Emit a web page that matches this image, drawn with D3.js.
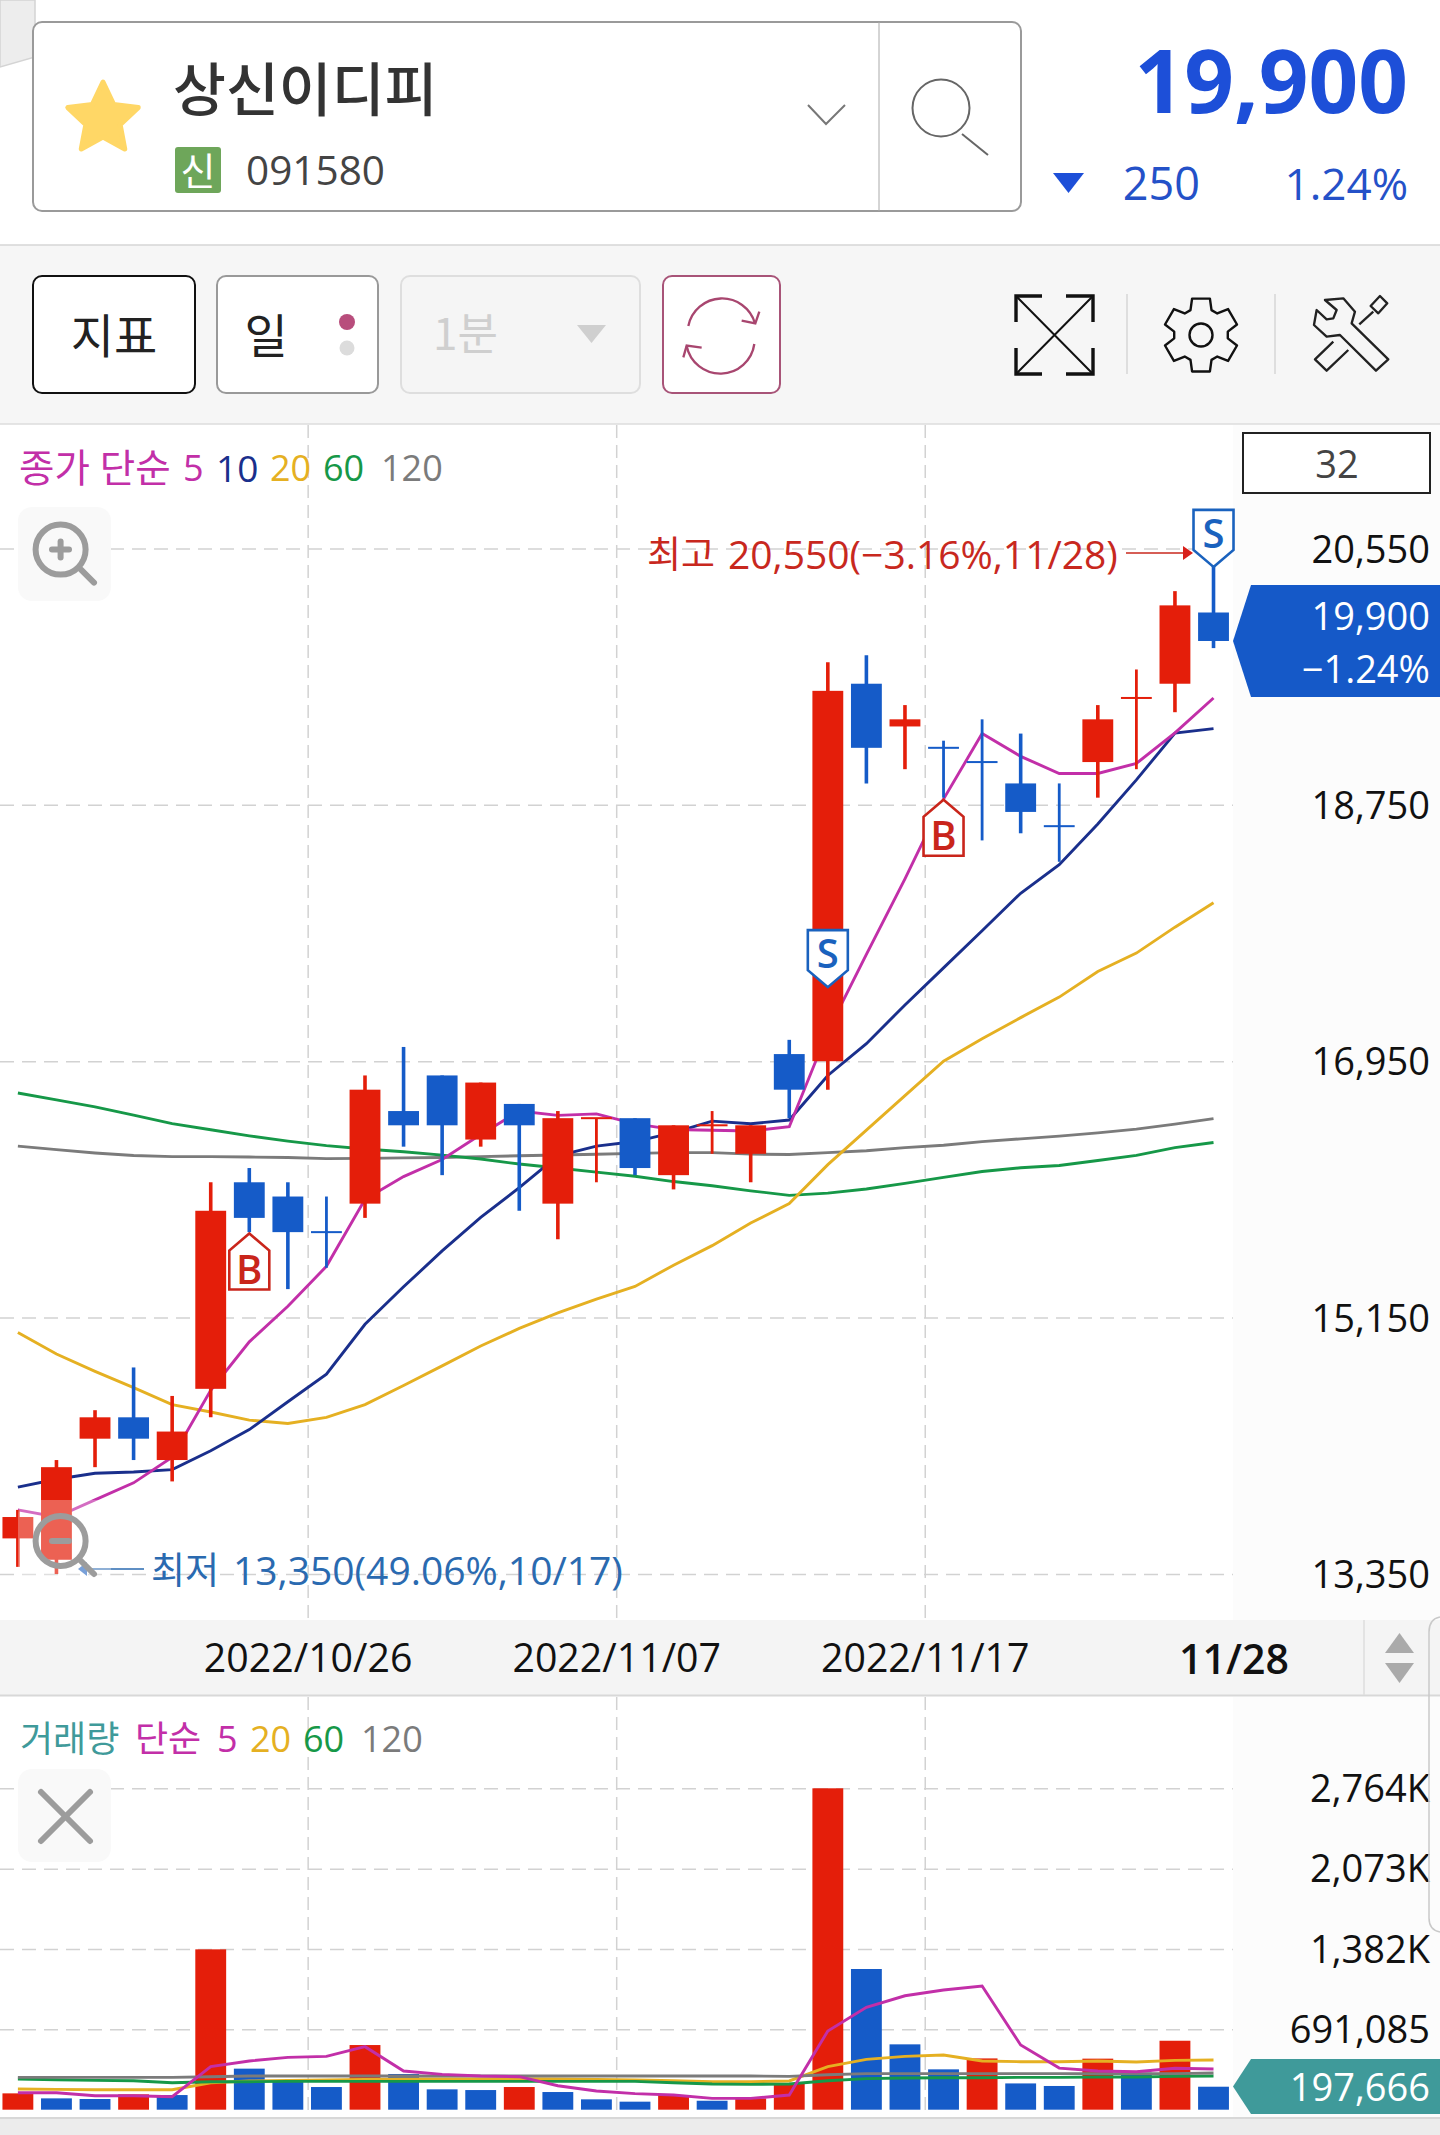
<!DOCTYPE html>
<html lang="ko">
<head>
<meta charset="utf-8">
<title>상신이디피 일봉 차트</title>
<script src="https://cdn.jsdelivr.net/npm/d3@7/dist/d3.min.js"></script>
<style>
  html, body { margin: 0; padding: 0; background: #fff; }
  svg { display: block; }
  text { font-family: "Open Sans", "Noto Sans CJK KR", sans-serif; }
  .kr { font-family: "Noto Sans CJK KR", sans-serif; }
</style>
</head>
<body>
<svg id="chart" width="1440" height="2135" viewBox="0 0 1440 2135"></svg>
<script>
// Daily sessions, 2022/10/14 to 2022/11/28
const dates = ["10/14","10/17","10/18","10/19","10/20","10/21","10/24","10/25","10/26","10/27","10/28","10/31",
  "11/01","11/02","11/03","11/04","11/07","11/08","11/09","11/10","11/11","11/14","11/15","11/16",
  "11/17","11/18","11/21","11/22","11/23","11/24","11/25","11/28"];

const opens  = [13600,13450,14300,14450,14150,14650,16100,16000,15750,15950,16600,16850,16400,16650,15950,16550,
                16550,16150,16500,16300,17000,16950,19600,19300,19150,19050,18900,18600,19050,19500,19600,20100];
const closes = [13750,14100,14450,14300,14350,15900,15850,15750,15750,16750,16500,16500,16800,16500,16550,16550,
                16200,16500,16500,16500,16750,19550,19150,19350,19150,19050,18700,18600,19350,19500,20150,19900];
const highs  = [13800,14150,14500,14800,14600,16100,16200,16100,16000,16850,17050,16850,16800,16650,16600,16550,
                16550,16500,16600,16500,17100,19750,19800,19450,19200,19350,19250,18900,19450,19700,20250,20550];
const lows   = [13400,13350,14100,14150,14000,14450,15750,15350,15500,15850,16350,16150,16350,15900,15700,16100,
                16150,16050,16300,16100,16550,16750,18900,19000,18800,18500,18550,18350,18800,19000,19400,19850];
// 1 = up session (red), 0 = down session (blue); needed for sessions that close where they opened
const rising = [1,1,1,0,1,1,0,0,0,1,0,0,1,0,1,1,0,1,1,1,0,1,0,1,0,0,0,0,1,1,1,0];

const ma5   = [13800,13750,13870,13990,14170,14640,14980,15230,15510,15980,16140,16260,16435,16600,16570,16580,
               16510,16470,16465,16460,16490,17160,17700,18230,18790,19250,19090,18970,18970,19040,19255,19500];
const ma10  = [13960,14015,14057,14066,14083,14215,14364,14559,14753,15103,15366,15618,15853,16062,16286,16354,
               16386,16449,16529,16511,16537,16850,17073,17345,17605,17866,18129,18329,18615,18925,19254,19285];
const ma20  = [15045,14894,14773,14659,14539,14487,14430,14407,14450,14539,14673,14811,14951,15074,15183,15280,
               15369,15518,15655,15814,15950,16224,16466,16708,16950,17107,17256,17400,17580,17709,17891,18063];
const ma60  = [16727,16678,16629,16572,16512,16469,16426,16389,16357,16334,16314,16291,16263,16228,16200,16171,
               16142,16105,16076,16040,16008,16024,16053,16092,16134,16176,16202,16218,16253,16289,16343,16379];
const ma120 = [16354,16329,16306,16288,16280,16280,16277,16274,16266,16268,16271,16274,16280,16286,16291,16297,
               16303,16308,16308,16298,16295,16308,16321,16343,16360,16385,16405,16424,16447,16473,16508,16547];

const volumes = [140500,97500,92000,132000,126000,1379000,353000,241000,195000,556000,307000,175000,169000,195000,152000,89000,
                 69000,126000,77000,97000,221000,2764000,1210000,562000,347000,441000,226000,204000,439000,318000,593000,197666];
const volMa5   = [146,146,120,120,112,370,419,450,459,542,333,304,290,284,206,161,138,126,97,97,126,677,880,980,1029,1064,556,358,333,327,356,350];
const volMa20  = [178,175,172,172,172,232,247,252,255,261,264,264,264,267,264,261,255,249,241,241,247,370,433,459,470,419,413,413,419,410,424,427];
const volMa60  = [264,258,252,249,232,241,241,244,244,244,244,244,244,244,244,244,244,232,221,218,221,249,267,272,275,275,278,278,281,281,287,290];
const volMa120 = [278,278,278,278,278,284,290,290,290,290,290,290,290,290,290,290,290,290,290,290,287,301,310,310,310,310,310,310,310,310,310,315];

const priceTicks = [20550,18750,16950,15150,13350];
const volumeTicks = [691085,1382000,2073000,2764000];
const volumeTickLabels = {691085:"691,085",1382000:"1,382K",2073000:"2,073K",2764000:"2,764K"};
const dateTicks = ["10/26","11/07","11/17"];
const dateLabels = ["2022/10/26","2022/11/07","2022/11/17"];

// Trade signals: session, kind and the price the marker points at
const signals = [
  {date:"10/24", kind:"B", price:15740},
  {date:"11/14", kind:"S", price:17470},
  {date:"11/17", kind:"B", price:18785},
  {date:"11/28", kind:"S", price:20420}
];

const RED = "#e41e0a", BLUE = "#155bc8";
const MAGENTA = "#c22fa8", NAVY = "#1a2f8c", YELLOW = "#e5b022", GREEN = "#169848", GRAY = "#7b7b7b", TEAL = "#3f9a9a";

const svg = d3.select("#chart");

const x = d3.scaleBand().domain(dates).range([-1.4, 1232.8]).paddingInner(0.2).paddingOuter(0.1);
const cx = d => x(d) + x.bandwidth() / 2;
const gridX = d => x(d) - x.step() * 0.1 + 1;
const y = d3.scaleLinear().domain([13350, 20550]).range([1574, 548.4]);
const yv = d3.scaleLinear().domain([0, 2764000]).range([2109.7, 1788.3]);

// ---- Panels and backgrounds ----
svg.append("rect").attr("width",1440).attr("height",2135).attr("fill","#fff");
svg.append("rect").attr("y",245).attr("width",1440).attr("height",179).attr("fill","#f6f6f6");
svg.append("line").attr("x1",0).attr("x2",1440).attr("y1",245).attr("y2",245).attr("stroke","#d6d6d6").attr("stroke-width",1.5);
svg.append("line").attr("x1",0).attr("x2",1440).attr("y1",424).attr("y2",424).attr("stroke","#dcdcdc").attr("stroke-width",1.5);
svg.append("rect").attr("x",1233).attr("y",425).attr("width",207).attr("height",1195).attr("fill","#fcfcfc");
svg.append("rect").attr("x",1233).attr("y",1697).attr("width",207).attr("height",420).attr("fill","#fcfcfc");

// ---- Grid ----
const grid = svg.append("g");
const priceGrid = grid.append("g").call(d3.axisRight(y).tickValues(priceTicks).tickSize(1233).tickFormat(""));
const volGrid = grid.append("g").call(d3.axisRight(yv).tickValues(volumeTicks).tickSize(1233).tickFormat(""));
[priceGrid, volGrid].forEach(g => {
  g.select(".domain").remove();
  g.selectAll("line").attr("stroke","#d2d2d2").attr("stroke-width",1.5).attr("stroke-dasharray","14 8");
});
dateTicks.forEach(d => {
  [[425,1620],[1697,2110]].forEach(([a,b]) => {
    grid.append("line").attr("x1",gridX(d)).attr("x2",gridX(d)).attr("y1",a).attr("y2",b)
      .attr("stroke","#d2d2d2").attr("stroke-width",1.5).attr("stroke-dasharray","13 7");
  });
});

// ---- Moving averages, price ----
const priceLine = d3.line().x((d,i) => cx(dates[i])).y(d => y(d));
[[ma120,GRAY],[ma60,GREEN],[ma20,YELLOW],[ma10,NAVY],[ma5,MAGENTA]].forEach(([s,c]) => {
  svg.append("path").attr("d",priceLine(s)).attr("fill","none").attr("stroke",c).attr("stroke-width",2.9);
});

// ---- Candles ----
const candles = svg.append("g").selectAll("g").data(dates).join("g");
candles.append("line")
  .attr("x1",d=>cx(d)).attr("x2",d=>cx(d))
  .attr("y1",(d,i)=>y(highs[i])).attr("y2",(d,i)=>y(lows[i]))
  .attr("stroke",(d,i)=>rising[i]?RED:BLUE)
  .attr("stroke-width",(d,i)=>opens[i]===closes[i]?2.8:3.6);
candles.append("rect")
  .attr("x",d=>x(d)).attr("width",x.bandwidth())
  .attr("y",(d,i)=>y(Math.max(opens[i],closes[i])) - (opens[i]===closes[i]?1:0))
  .attr("height",(d,i)=>Math.max(2, Math.abs(y(opens[i])-y(closes[i]))))
  .attr("fill",(d,i)=>rising[i]?RED:BLUE);

// ---- Volume bars and averages ----
svg.append("g").selectAll("rect").data(volumes).join("rect")
  .attr("x",(d,i)=>x(dates[i])).attr("width",x.bandwidth())
  .attr("y",d=>yv(d)).attr("height",d=>yv(0)-yv(d))
  .attr("fill",(d,i)=>(i===0||d>volumes[i-1])?RED:BLUE);
const volLine = d3.line().x((d,i)=>cx(dates[i])).y(d=>yv(d*1000));
[[volMa20,YELLOW],[volMa60,GREEN],[volMa120,GRAY],[volMa5,MAGENTA]].forEach(([s,c]) => {
  svg.append("path").attr("d",volLine(s)).attr("fill","none").attr("stroke",c).attr("stroke-width",2.9);
});

// ---- Buy / sell markers ----
signals.forEach(s => {
  const px = cx(s.date), py = y(s.price), c = s.kind === "B" ? "#c9251b" : "#1a62be";
  const g = svg.append("g").attr("transform",`translate(${px},${py})`);
  const shape = s.kind === "B"
    ? "M0,0 L20,17 L20,56 L-20,56 L-20,17 Z"
    : "M0,0 L20,-17 L20,-57 L-20,-57 L-20,-17 Z";
  g.append("path").attr("d",shape).attr("fill","#fff").attr("stroke",c).attr("stroke-width",2.6);
  g.append("text").text(s.kind).attr("text-anchor","middle")
    .attr("y",s.kind==="B"?50:-19).attr("font-size",40).attr("font-weight",600).attr("fill",c);
});

// ---- Right axes ----
const axisFont = 38, axisRightEdge = 1430;
const priceAxis = svg.append("g").attr("transform",`translate(${axisRightEdge},1.5)`)
  .call(d3.axisLeft(y).tickValues(priceTicks).tickSize(0).tickPadding(0).tickFormat(d3.format(",")));
const volAxis = svg.append("g").attr("transform",`translate(${axisRightEdge},1)`)
  .call(d3.axisLeft(yv).tickValues(volumeTicks).tickSize(0).tickPadding(0).tickFormat(d=>volumeTickLabels[d]));
[priceAxis, volAxis].forEach(g => {
  g.select(".domain").remove();
  g.selectAll("text").attr("font-size",axisFont).attr("fill","#111").attr("font-family",'"Open Sans"');
});

// ---- Date strip ----
svg.append("rect").attr("y",1620).attr("width",1440).attr("height",76).attr("fill","#f4f4f4");
svg.append("line").attr("x1",0).attr("x2",1440).attr("y1",1695.5).attr("y2",1695.5).attr("stroke","#d8d8d8").attr("stroke-width",2);
const dateAxis = svg.append("g").attr("transform","translate(0,1656.5)");
dateTicks.forEach((d,i) => {
  dateAxis.append("text").text(dateLabels[i]).attr("x",gridX(d)).attr("text-anchor","middle")
    .attr("dominant-baseline","central").attr("font-size",39.3).attr("fill","#111");
});
dateAxis.append("text").text("11/28").attr("x",1234).attr("y",1.5).attr("text-anchor","middle")
  .attr("dominant-baseline","central").attr("font-size",41).attr("font-weight",600).attr("fill","#111");
svg.append("line").attr("x1",1364).attr("x2",1364).attr("y1",1620).attr("y2",1695).attr("stroke","#dedede").attr("stroke-width",1.5);
svg.append("path").attr("d","M1399.5,1633 L1414,1653 L1385,1653 Z").attr("fill","#aaa");
svg.append("path").attr("d","M1385,1663 L1414,1663 L1399.5,1683 Z").attr("fill","#aaa");
svg.append("path").attr("d","M1440,1617 Q1429,1619 1429,1632 L1429,1918 Q1429,1930 1440,1932")
  .attr("fill","none").attr("stroke","#c9c9c9").attr("stroke-width",1.5);

// ---- Bottom strip ----
svg.append("rect").attr("y",2118).attr("width",1440).attr("height",17).attr("fill","#ececec");
svg.append("line").attr("x1",0).attr("x2",1440).attr("y1",2118).attr("y2",2118).attr("stroke","#d8d8d8").attr("stroke-width",2);

// ---- Last value tags ----
function lastTag(top, bottom, color) {
  const mid = (top + bottom) / 2;
  svg.append("path").attr("d",`M1233,${mid} L1251,${top} L1440,${top} L1440,${bottom} L1251,${bottom} Z`).attr("fill",color);
}
lastTag(585, 697, "#1559c8");
[["19,900",614.5],["−1.24%",667.5]].forEach(([t,py]) => {
  svg.append("text").text(t).attr("x",axisRightEdge).attr("y",py).attr("text-anchor","end")
    .attr("dominant-baseline","central").attr("font-size",axisFont).attr("fill","#fff");
});
lastTag(2059, 2114, TEAL);
svg.append("text").text("197,666").attr("x",axisRightEdge).attr("y",2086).attr("text-anchor","end")
  .attr("dominant-baseline","central").attr("font-size",axisFont).attr("fill","#fff");

// Session count box
svg.append("rect").attr("x",1243).attr("y",433).attr("width",187).attr("height",60)
  .attr("fill","#fff").attr("stroke","#222").attr("stroke-width",2);
svg.append("text").text("32").attr("x",1337).attr("y",463).attr("text-anchor","middle")
  .attr("dominant-baseline","central").attr("font-size",axisFont).attr("fill","#444");

// ---- High / low annotations ----
svg.append("text").attr("class","kr").text("최고").attr("x",647).attr("y",552).attr("dominant-baseline","central")
  .attr("font-size",37).attr("fill","#c8281e");
svg.append("text").text("20,550(−3.16%,11/28)").attr("x",728).attr("y",553).attr("dominant-baseline","central")
  .attr("font-size",39).attr("fill","#c8281e");
svg.append("line").attr("x1",1126).attr("x2",1186).attr("y1",553).attr("y2",553).attr("stroke","#c8281e").attr("stroke-width",1.6);
svg.append("path").attr("d","M1193,553 L1183,546 L1183,560 Z").attr("fill","#d8201a");

svg.append("text").attr("class","kr").text("최저").attr("x",151).attr("y",1568).attr("dominant-baseline","central")
  .attr("font-size",37).attr("fill","#2a6ab0");
svg.append("text").text("13,350(49.06%,10/17)").attr("x",233).attr("y",1569).attr("dominant-baseline","central")
  .attr("font-size",39).attr("fill","#2a6ab0");
svg.append("line").attr("x1",87).attr("x2",144).attr("y1",1569).attr("y2",1569).attr("stroke","#2a6ab0").attr("stroke-width",1.4);
svg.append("path").attr("d","M78,1569 L87,1562 L87,1576 Z").attr("fill","#3f78c8");

// ---- Legends ----
function legend(py, parts) {
  parts.forEach(([t,px,c,fs]) => {
    svg.append("text").text(t).attr("x",px).attr("y",py).attr("dominant-baseline","central")
      .attr("font-size",fs||36).attr("fill",c);
  });
}
legend(467, [["종가 단순",19,MAGENTA,38.5],["5",183,MAGENTA],["10",216,NAVY,37],["20",270,YELLOW],["60",323,GREEN],["120",381,GRAY]]);
legend(1738,[["거래량",20,TEAL],["단순",135,MAGENTA],["5",217,MAGENTA],["20",250,YELLOW],["60",303,GREEN],["120",361,GRAY]]);

// ---- Chart zoom and close buttons ----
const glass = (cy, plus) => {
  const g = svg.append("g").attr("fill","none").attr("stroke","#9c9c9c").attr("stroke-linecap","round");
  g.append("circle").attr("cx",60.6).attr("cy",cy).attr("r",25).attr("stroke-width",6);
  g.append("line").attr("x1",81).attr("y1",cy+20).attr("x2",94).attr("y2",cy+33).attr("stroke-width",6);
  g.append("line").attr("x1",52).attr("x2",69).attr("y1",cy).attr("y2",cy).attr("stroke-width",6);
  if (plus) g.append("line").attr("x1",60.6).attr("x2",60.6).attr("y1",cy-8).attr("y2",cy+8).attr("stroke-width",6);
};
svg.append("rect").attr("x",18).attr("y",507).attr("width",93).attr("height",94).attr("rx",14).attr("fill","#f9f9f9");
glass(549.6, true);
svg.append("rect").attr("x",18).attr("y",1500).attr("width",93).attr("height",92).attr("rx",14).attr("fill","#fff").attr("fill-opacity",0.3);
glass(1541, false);
svg.append("rect").attr("x",18).attr("y",1769).attr("width",93).attr("height",93).attr("rx",14).attr("fill","#f9f9f9");
const closeX = svg.append("g").attr("stroke","#9c9c9c").attr("stroke-width",6).attr("stroke-linecap","round");
closeX.append("line").attr("x1",41).attr("y1",1792).attr("x2",90).attr("y2",1841);
closeX.append("line").attr("x1",90).attr("y1",1792).attr("x2",41).attr("y2",1841);

// ---- Header: stock selector ----
svg.append("path").attr("d","M0,0 L35,0 L35,57 L0,67 Z").attr("fill","#ededed").attr("stroke","#d4d4d4").attr("stroke-width",1.5);
svg.append("rect").attr("x",33).attr("y",22).attr("width",988).attr("height",189).attr("rx",9)
  .attr("fill","#fff").attr("stroke","#9a9a9a").attr("stroke-width",2);
svg.append("line").attr("x1",879).attr("x2",879).attr("y1",22).attr("y2",211).attr("stroke","#aaa").attr("stroke-width",1);

const starPts = d3.range(10).map(i => {
  const r = i % 2 ? 18 : 37, a = -Math.PI/2 + i*Math.PI/5;
  return [103 + r*Math.cos(a), 119 + r*Math.sin(a)];
});
svg.append("path").attr("d",d3.line().curve(d3.curveLinearClosed)(starPts))
  .attr("fill","#ffd766").attr("stroke","#ffd766").attr("stroke-width",5).attr("stroke-linejoin","round");

svg.append("text").attr("class","kr").text("상신이디피").attr("x",173).attr("y",111)
  .attr("font-size",57.5).attr("font-weight",500).attr("fill","#333");
svg.append("rect").attr("x",175).attr("y",147).attr("width",46).attr("height",46).attr("rx",3).attr("fill","#6ea65a");
svg.append("text").attr("class","kr").text("신").attr("x",198).attr("y",168).attr("text-anchor","middle")
  .attr("dominant-baseline","central").attr("font-size",38).attr("fill","#fff");
svg.append("text").text("091580").attr("x",246).attr("y",169).attr("dominant-baseline","central")
  .attr("font-size",40.5).attr("fill","#444");

svg.append("path").attr("d","M808,105 L826,124 L845,105").attr("fill","none").attr("stroke","#777").attr("stroke-width",2);
svg.append("circle").attr("cx",941).attr("cy",108).attr("r",28.5).attr("fill","none").attr("stroke","#666").attr("stroke-width",2);
svg.append("line").attr("x1",962).attr("y1",134).attr("x2",988).attr("y2",155).attr("stroke","#666").attr("stroke-width",2);

// Current price block
svg.append("text").text("19,900").attr("x",1408).attr("y",113).attr("text-anchor","end")
  .attr("font-size",87).attr("font-weight",700).attr("fill","#1d4fd8");
svg.append("path").attr("d","M1053,173 L1084,173 L1068.5,193 Z").attr("fill","#1d4fd8");
svg.append("text").text("250").attr("x",1200).attr("y",200).attr("text-anchor","end")
  .attr("font-size",45).attr("fill","#2451c8");
svg.append("text").text("1.24%").attr("x",1408).attr("y",200).attr("text-anchor","end")
  .attr("font-size",44).attr("fill","#2451c8");

// ---- Toolbar ----
function button(bx, bw, stroke, fill, sw) {
  svg.append("rect").attr("x",bx).attr("y",276).attr("width",bw).attr("height",117).attr("rx",9)
    .attr("fill",fill).attr("stroke",stroke).attr("stroke-width",sw);
}
button(33,162,"#111","#fff",2);
svg.append("text").attr("class","kr").text("지표").attr("x",114).attr("y",332).attr("text-anchor","middle")
  .attr("dominant-baseline","central").attr("font-size",47).attr("fill","#222");
button(217,161,"#999","#fff",2);
svg.append("text").attr("class","kr").text("일").attr("x",266).attr("y",332).attr("text-anchor","middle")
  .attr("dominant-baseline","central").attr("font-size",47).attr("fill","#222");
svg.append("circle").attr("cx",347).attr("cy",322).attr("r",8).attr("fill","#b84d7c");
svg.append("circle").attr("cx",347).attr("cy",348).attr("r",7.5).attr("fill","#dcdcdc");
button(401,239,"#dedede","#f5f5f5",2);
svg.append("text").attr("class","kr").text("1분").attr("x",433).attr("y",331)
  .attr("dominant-baseline","central").attr("font-size",44).attr("fill","#cfcfcf");
svg.append("path").attr("d","M577,325 L606,325 L591.5,343 Z").attr("fill","#cfcfcf");
button(663,117,"#a85478","#fff",2);

// Refresh arrows
const refresh = svg.append("g").attr("transform","translate(650,270) scale(0.3333)")
  .attr("fill","none").attr("stroke","#a8466f").attr("stroke-width",7);
refresh.append("path").attr("d","M115,168 A103,103 0 0 1 315,160");
refresh.append("path").attr("d","M313,222 A103,103 0 0 1 110,228");
refresh.append("path").attr("d","M328,125 L316,160 L275,152");
refresh.append("path").attr("d","M100,262 L110,227 L155,233");

// Expand icon
const expand = svg.append("g").attr("fill","none").attr("stroke","#111");
expand.append("path").attr("stroke-width",3.4).attr("d","M1042,296 L1016,296 L1016,322 M1066,296 L1093,296 L1093,322 M1016,348 L1016,374 L1042,374 M1093,348 L1093,374 L1066,374");
expand.append("path").attr("stroke-width",2).attr("d","M1017,297 L1092,373 M1092,297 L1017,373");
svg.append("line").attr("x1",1127).attr("x2",1127).attr("y1",294).attr("y2",374).attr("stroke","#cfcfcf").attr("stroke-width",1.2);

// Settings gear
const gearPts = [];
d3.range(6).forEach(i => {
  const a = i*Math.PI/3 - Math.PI/2;
  [[27,-0.4],[37.5,-0.24],[37.5,0.24],[27,0.4]].forEach(([r,o]) => {
    gearPts.push([1201 + r*Math.cos(a+o), 335 + r*Math.sin(a+o)]);
  });
});
svg.append("path").attr("d",d3.line().curve(d3.curveLinearClosed)(gearPts)).attr("fill","none").attr("stroke","#111").attr("stroke-width",2.4).attr("stroke-linejoin","round");
svg.append("circle").attr("cx",1201).attr("cy",335).attr("r",11.5).attr("fill","none").attr("stroke","#111").attr("stroke-width",2.4);
svg.append("line").attr("x1",1275).attr("x2",1275).attr("y1",294).attr("y2",374).attr("stroke","#cfcfcf").attr("stroke-width",1.2);

// Tools icon
const tools = svg.append("g").attr("transform","translate(990,280) scale(0.3333)")
  .attr("fill","none").attr("stroke","#222").attr("stroke-width",7).attr("stroke-linejoin","round");
tools.append("path").attr("d","M980,90 L972,135 L1010,170 L1050,165 L1158,272 L1195,238 L1085,130 L1095,95 L1060,55 L1005,60 L1040,90 L1030,115 L1010,118 Z");
tools.append("path").attr("d","M1170,48 L1192,70 L1165,100 L1142,78 Z");
tools.append("path").attr("d","M1150,95 L1108,133");
tools.append("path").attr("d","M1030,185 L975,238 L1010,272 L1075,210");
</script>
</body>
</html>
